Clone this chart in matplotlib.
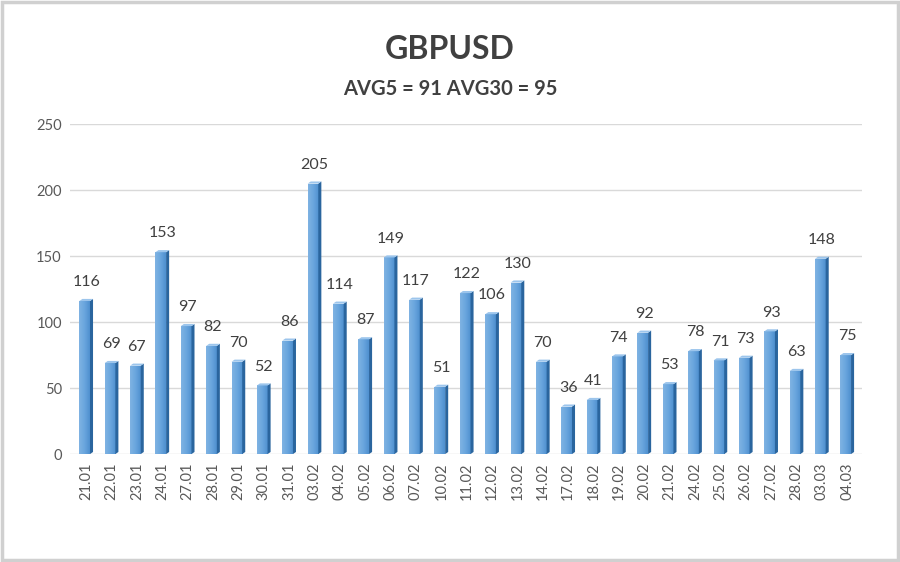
import numpy as np
import matplotlib
matplotlib.use("Agg")
import matplotlib.pyplot as plt
from matplotlib.patches import Polygon, Rectangle

dates = ["21.01", "22.01", "23.01", "24.01", "27.01", "28.01", "29.01", "30.01",
         "31.01", "03.02", "04.02", "05.02", "06.02", "07.02", "10.02", "11.02",
         "12.02", "13.02", "14.02", "17.02", "18.02", "19.02", "20.02", "21.02",
         "24.02", "25.02", "26.02", "27.02", "28.02", "03.03", "04.03"]
values = [116, 69, 67, 153, 97, 82, 70, 52, 86, 205, 114, 87, 149, 117, 51, 122,
          106, 130, 70, 36, 41, 74, 92, 53, 78, 71, 73, 93, 63, 148, 75]

title = "GBPUSD"
subtitle = "AVG5 = 91 AVG30 = 95"

plt.rcParams['font.family'] = ['Lato', 'DejaVu Sans']
txt = "#404040"

fig = plt.figure(figsize=(9, 5.62), dpi=100)
ax = fig.add_axes([0.078, 0.192, 0.88, 0.587])

n = len(values)
x = np.arange(n)
w = 0.42   # front face width
d = 0.12   # side depth (x units)
dy = 1.6   # depth rise (y units)

grad = np.linspace(0, 1, 64).reshape(1, -1)
front_cmap = matplotlib.colors.LinearSegmentedColormap.from_list(
    "front", ["#7fb3e3", "#6aa6de", "#4f90cf"])

for xi, v in zip(x, values):
    rect = Rectangle((xi - w / 2, 0), w, v, facecolor="none", edgecolor="none")
    ax.add_patch(rect)
    im = ax.imshow(grad, cmap=front_cmap, aspect="auto",
                   extent=(xi - w / 2, xi + w / 2, 0, v), zorder=3)
    im.set_clip_path(rect)
    side = Polygon([(xi + w / 2, 0), (xi + w / 2 + d, dy), (xi + w / 2 + d, v + dy),
                    (xi + w / 2, v)], closed=True, facecolor="#2a659e",
                   edgecolor="none", zorder=3)
    ax.add_patch(side)
    top = Polygon([(xi - w / 2, v), (xi + w / 2, v), (xi + w / 2 + d, v + dy),
                   (xi - w / 2 + d, v + dy)], closed=True, facecolor="#9cc5ec",
                  edgecolor="none", zorder=3)
    ax.add_patch(top)
    ax.annotate(str(v), (xi + d / 2, v + dy), xytext=(0, 7), textcoords="offset points",
                ha="center", va="bottom", fontsize=11.5, color=txt, zorder=4)

ax.set_xlim(-0.57, n - 1 + 0.65)
ax.set_ylim(0, 250)
ax.set_yticks(np.arange(0, 251, 50))
ax.yaxis.grid(True, color="#d9d9d9", lw=1)
ax.set_axisbelow(True)
ax.set_xticks(x + d / 2)
ax.set_xticklabels(dates, rotation=90, fontsize=10.5, color="#595959")
ax.tick_params(axis="y", labelsize=10.5, colors="#595959", length=0, pad=6)
ax.tick_params(axis="x", length=0, pad=6)
for s in ax.spines.values():
    s.set_visible(False)

fig.text(0.5, 0.912, title, ha="center", va="center", fontsize=23, fontweight="bold", color=txt)
fig.text(0.5, 0.842, subtitle, ha="center", va="center", fontsize=14.5, fontweight="bold", color=txt)

fig.patches.append(Rectangle((0.002, 0.003), 0.996, 0.994, transform=fig.transFigure,
                             fill=False, edgecolor="#d0d0d0", lw=2.5))

fig.savefig("out.png", dpi=100)
